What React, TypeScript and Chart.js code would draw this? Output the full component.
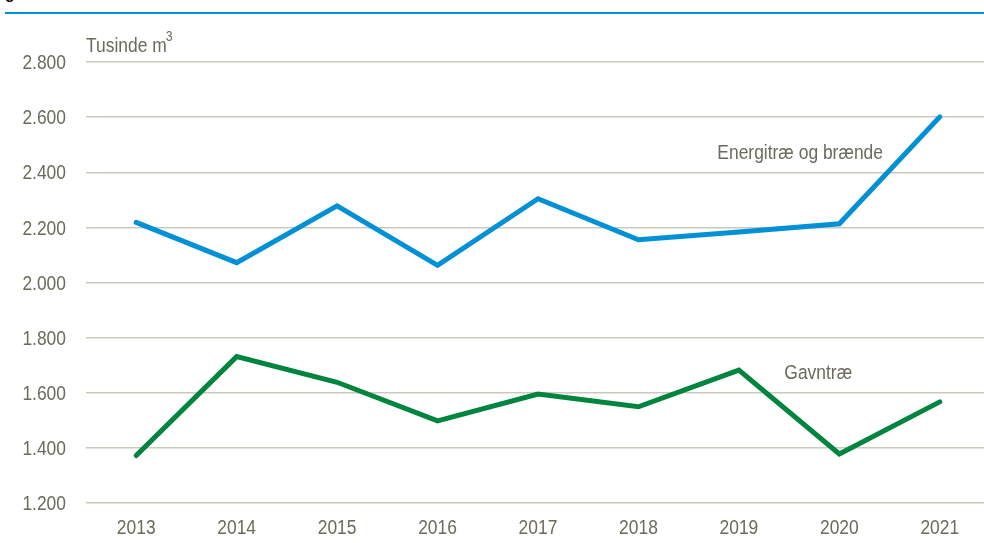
import React, { useEffect, useRef } from "react";
import { Chart, registerables } from "chart.js";

Chart.register(...registerables);

const years = ["2013", "2014", "2015", "2016", "2017", "2018", "2019", "2020", "2021"];
const energitrae = [2218, 2072, 2278, 2062, 2304, 2155, 2183, 2213, 2601];
const gavntrae = [1372, 1731, 1638, 1498, 1595, 1549, 1682, 1378, 1567];
const yMin = 1200;
const yMax = 2800;
const yStep = 200;

const BLUE = "#0090d6";
const GREEN = "#00853e";
const TEXT = "#6b6a5b";
const GRID = "#cbc8bc";
const FONT = "'Liberation Sans', Arial, sans-serif";
const FS = 20.5;
const SX = 0.85; // horizontal condensing to mimic a narrow face

const fmt = (v: number) => {
  const s = String(Math.round(v));
  return s.length > 3 ? s.slice(0, s.length - 3) + "." + s.slice(s.length - 3) : s;
};

function narrowText(ctx: any, text: string, x: number, y: number, align: string, size = FS) {
  ctx.save();
  ctx.font = `${size}px ${FONT}`;
  ctx.textAlign = align;
  ctx.scale(SX, 1);
  ctx.fillText(text, x / SX, y);
  const w = ctx.measureText(text).width * SX;
  ctx.restore();
  return w;
}

const annotations = {
  id: "annotations",
  afterDraw(chart: any) {
    const { ctx } = chart;
    const x = chart.scales.x;
    const y = chart.scales.y;
    ctx.save();
    // header rule and clipped title glyph
    ctx.fillStyle = "#000";
    ctx.font = `bold 16px ${FONT}`;
    ctx.textBaseline = "alphabetic";
    ctx.textAlign = "left";
    ctx.fillText("g", 5, -1);
    ctx.strokeStyle = BLUE;
    ctx.lineWidth = 2;
    ctx.beginPath();
    ctx.moveTo(5, 13);
    ctx.lineTo(chart.width, 13);
    ctx.stroke();

    ctx.fillStyle = TEXT;
    // y tick labels
    ctx.textBaseline = "middle";
    for (const t of y.ticks) {
      narrowText(ctx, fmt(t.value), 66, y.getPixelForValue(t.value) + 1.5, "right");
    }
    // x tick labels
    years.forEach((lab, i) => {
      narrowText(ctx, lab, x.getPixelForValue(i), y.bottom + 25, "center");
    });

    // unit label
    ctx.textBaseline = "alphabetic";
    const w = narrowText(ctx, "Tusinde m", 86, 52, "left");
    narrowText(ctx, "3", 86 + w - 1, 41, "left", 14.5);

    // series labels
    ctx.textBaseline = "middle";
    narrowText(ctx, "Energitræ og brænde", x.getPixelForValue(6.61), y.getPixelForValue(2467), "center");
    narrowText(ctx, "Gavntræ", x.getPixelForValue(6.79), y.getPixelForValue(1670), "center");
    ctx.restore();
  },
};

export default function App() {
  const ref = useRef<HTMLCanvasElement>(null);
  useEffect(() => {
    if (!ref.current) return;
    const chart = new Chart(ref.current, {
      type: "line",
      data: {
        labels: years,
        datasets: [
          {
            label: "Energitræ og brænde",
            data: energitrae,
            borderColor: BLUE,
            backgroundColor: BLUE,
            borderWidth: 5,
            pointRadius: 0,
            tension: 0,
            borderCapStyle: "round",
            borderJoinStyle: "miter",
          },
          {
            label: "Gavntræ",
            data: gavntrae,
            borderColor: GREEN,
            backgroundColor: GREEN,
            borderWidth: 5,
            pointRadius: 0,
            tension: 0,
            borderCapStyle: "round",
            borderJoinStyle: "miter",
          },
        ],
      },
      options: {
        responsive: false,
        animation: false,
        layout: { padding: { top: 62, left: 0, right: 0, bottom: 0 } },
        plugins: { legend: { display: false }, tooltip: { enabled: false } },
        scales: {
          x: {
            offset: true,
            grid: { display: false, drawTicks: false },
            border: { display: false },
            ticks: { display: false },
            afterFit: (s: any) => {
              s.height = 40;
            },
          },
          y: {
            min: yMin,
            max: yMax,
            grid: { color: GRID, lineWidth: 1.5, drawTicks: false },
            border: { display: false },
            ticks: { display: false, stepSize: yStep },
            afterFit: (s: any) => {
              s.width = 86;
            },
          },
        },
      },
      plugins: [annotations],
    });
    return () => chart.destroy();
  }, []);
  return (
    <div style={{ position: "absolute", left: 0, top: 0, width: 984, height: 543, overflow: "hidden", background: "#fff" }}>
      <canvas ref={ref} width={990} height={543} style={{ display: "block" }} />
    </div>
  );
}
